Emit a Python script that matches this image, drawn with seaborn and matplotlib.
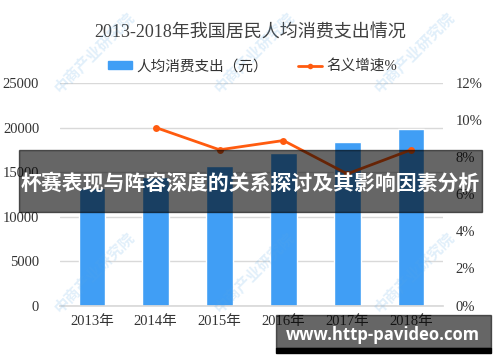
import numpy as np
import pandas as pd
import seaborn as sns
import matplotlib.pyplot as plt
from matplotlib.patches import Rectangle
from matplotlib.ticker import FuncFormatter

years = ["2013年", "2014年", "2015年", "2016年", "2017年", "2018年"]
spend = [13220, 14491, 15712, 17111, 18322, 19853]
growth = [np.nan, 9.6, 8.4, 8.9, 7.1, 8.4]

sns.set_theme(style="white")
plt.rcParams['font.family'] = ['Liberation Serif', 'Noto Sans CJK SC', 'DejaVu Sans']

df = pd.DataFrame({"year": years, "spend": spend, "growth": growth})
df["pos"] = range(len(df))

fig = plt.figure(figsize=(5, 3.62), dpi=100)
ax = fig.add_axes([0.12, 0.156, 0.766, 0.6146])

# bars
sns.barplot(data=df, x="year", y="spend", color="#409EF5", saturation=1,
            width=0.42, ax=ax, zorder=2)
ax.set_xlim(-0.5, 5.5)
ax.set_ylim(0, 25000)
ax.set_yticks(range(0, 25001, 5000))
ax.yaxis.grid(True, color="#D9D9D9", linewidth=1, zorder=0)
ax.set_axisbelow(True)
ax.set_xlabel("")
ax.set_ylabel("")
for s in ["top", "left", "right"]:
    ax.spines[s].set_visible(False)
ax.spines["bottom"].set_color("#D9D9D9")
ax.tick_params(axis="y", length=0, pad=15, labelsize=10.5, labelcolor="#333333")
ax.tick_params(axis="x", length=0, pad=7, labelsize=10.5, labelcolor="#333333")

# growth line on the right axis
ax2 = ax.twinx()
line_df = df.dropna()
sns.lineplot(data=line_df, x="pos", y="growth", color="#FF5B0F", linewidth=2,
             marker="o", markersize=5, markeredgewidth=0, ax=ax2, zorder=3)
ax2.set_ylim(0, 12)
ax2.set_yticks(range(0, 13, 2))
ax2.yaxis.set_major_formatter(FuncFormatter(lambda v, p: f"{v:.0f}%"))
ax2.set_xlim(-0.5, 5.5)
ax2.set_ylabel("")
ax2.set_xlabel("")
for s in ["top", "left", "right", "bottom"]:
    ax2.spines[s].set_visible(False)
ax2.tick_params(axis="y", length=0, pad=9, labelsize=10.5, labelcolor="#333333")

fig.text(0.5, 0.909, "2013-2018年我国居民人均消费支出情况", ha="center", va="center",
         fontsize=13, color="#404040")

handles = [Rectangle((0, 0), 1, 1, color="#409EF5"),
           plt.Line2D([], [], color="#FF5B0F", linewidth=2, marker="o",
                      markersize=4, markeredgewidth=0)]
fig.legend(handles, ["人均消费支出（元）", "名义增速%"], loc="center",
           bbox_to_anchor=(0.505, 0.817), ncol=2, frameon=False,
           fontsize=10.5, handlelength=1.7, handleheight=0.5,
           columnspacing=2.0, handletextpad=0.3, labelcolor="#333333")

# faint source watermarks
for cx in [95, 255, 415]:
    for cy in [52, 272]:
        fig.text(cx / 500, 1 - cy / 362, "中商产业研究院", ha="center", va="center",
                 rotation=45, fontsize=11, fontweight="bold", color="#5AA8E6",
                 alpha=0.18, family=["Noto Sans CJK SC"], zorder=5)

# overlay banner
fig.patches.append(Rectangle((0.038, 0.4144), 0.926, 0.1713, transform=fig.transFigure,
                             color="black", alpha=0.6, zorder=10))
fig.text(0.5, 0.4945, "杯赛表现与阵容深度的关系探讨及其影响因素分析", ha="center",
         va="center", fontsize=15, fontweight="bold", color="white",
         family=["Noto Sans CJK SC"], zorder=11)

# site watermark
fig.patches.append(Rectangle((0.552, 1 - 348 / 362), 0.43, 33 / 362,
                             transform=fig.transFigure, color="black", alpha=0.6, zorder=10))
fig.patches.append(Rectangle((0.552, 1 - 353 / 362), 0.43, 5 / 362,
                             transform=fig.transFigure, color="black", zorder=10))
fig.text(0.766, 1 - 335 / 362, "www.http-pavideo.com", ha="center", va="center",
         fontsize=12, fontweight="bold", color="white",
         family=["Open Sans", "DejaVu Sans"], zorder=11)

fig.savefig("out.png", dpi=100)
